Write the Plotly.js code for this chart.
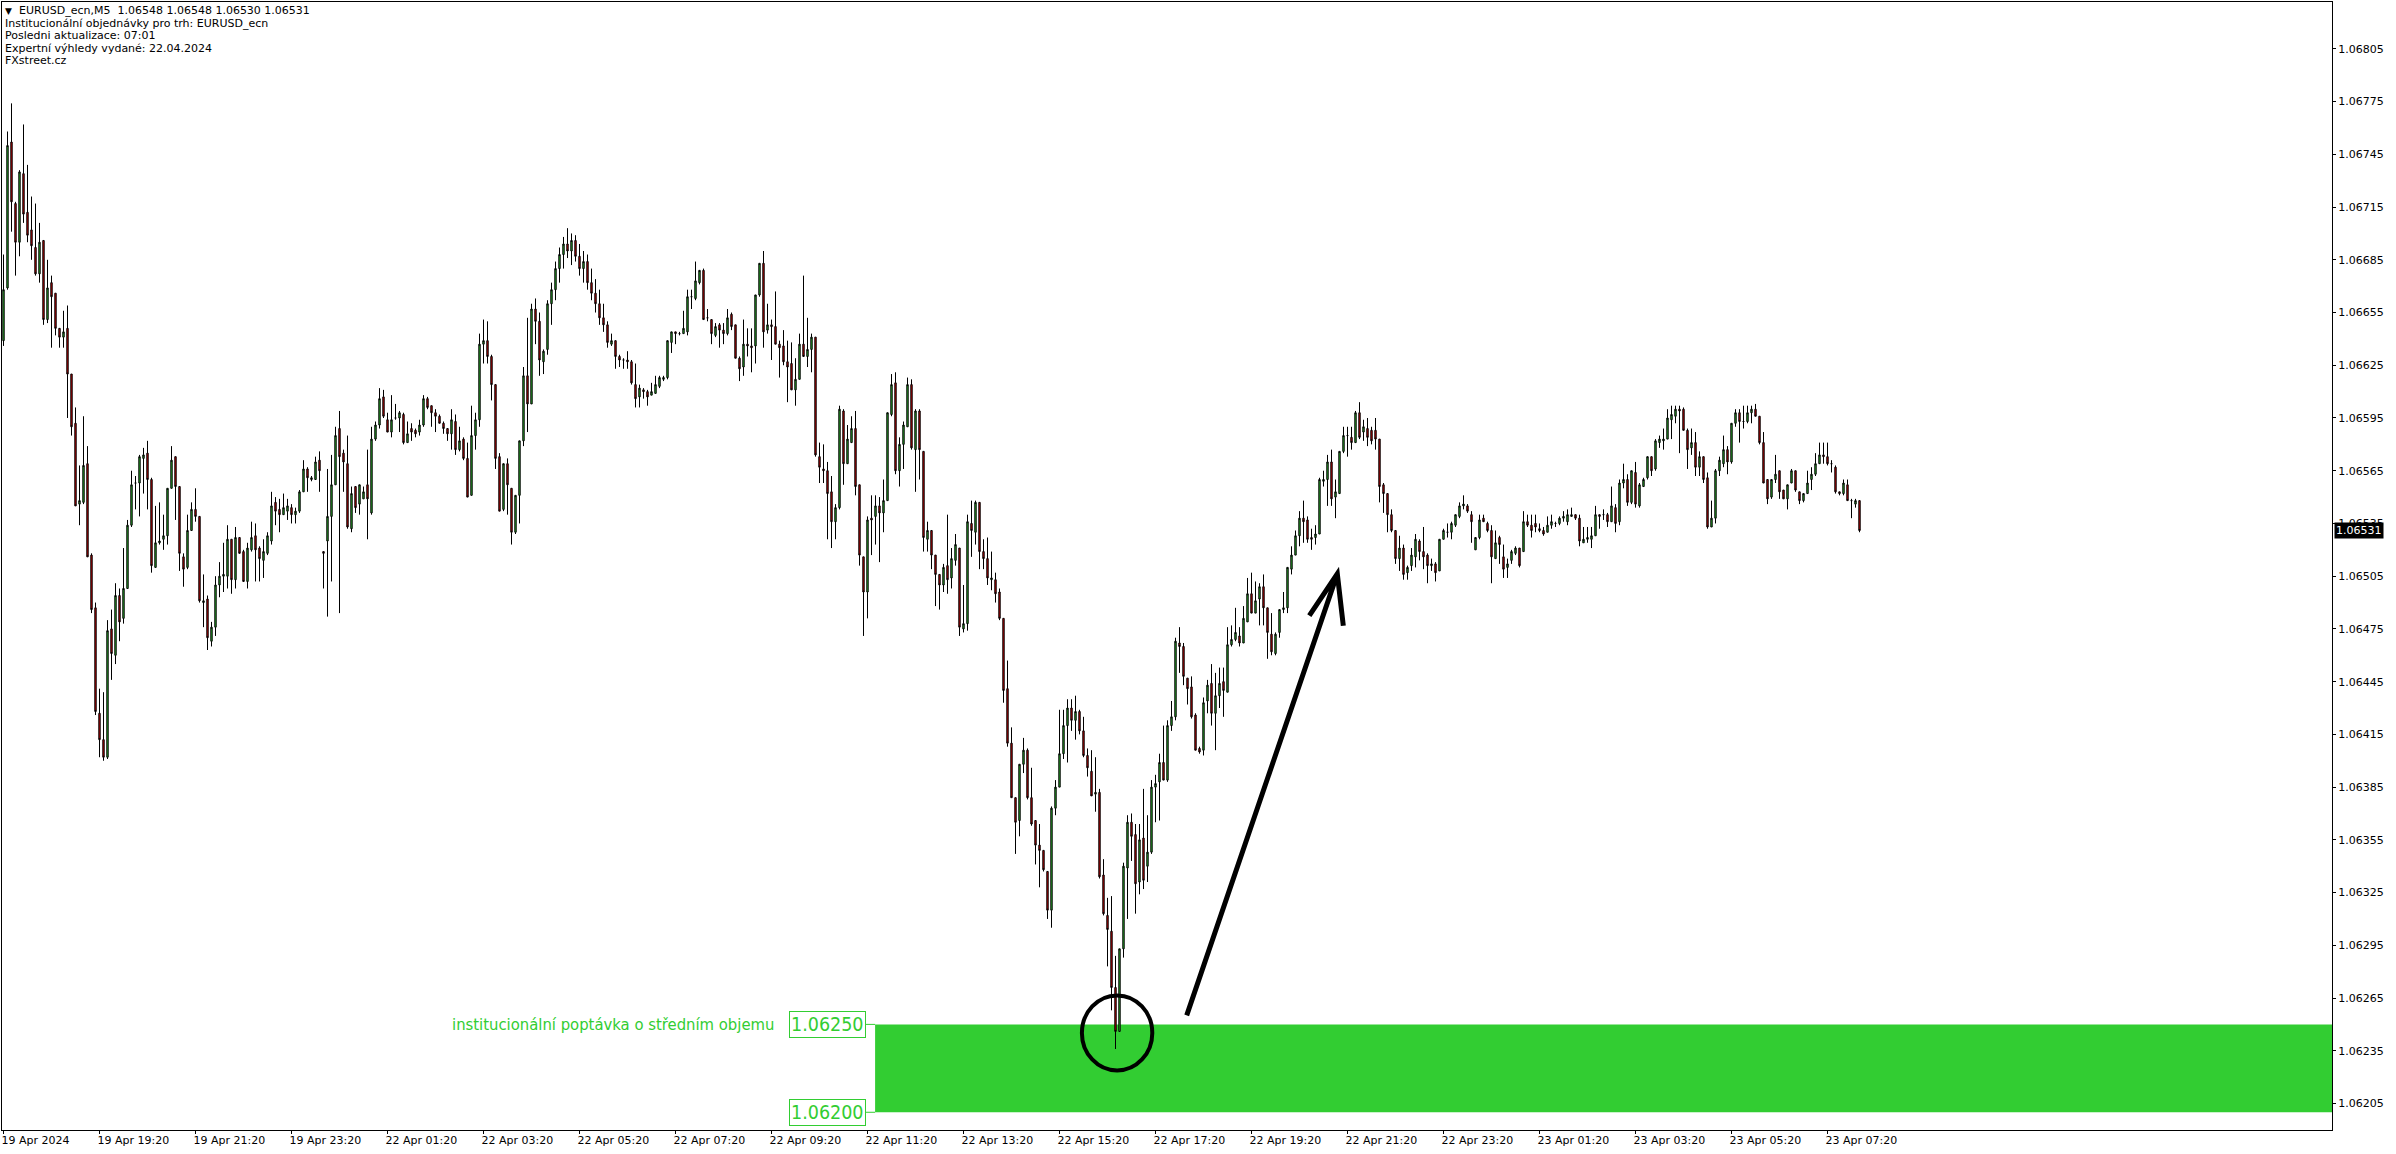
<!DOCTYPE html>
<html><head><meta charset="utf-8">
<script src="https://cdn.plot.ly/plotly-3.0.1.min.js"></script>
<style>html,body{margin:0;padding:0;background:#fff;overflow:hidden}#chart{width:2396px;height:1154px}</style>
</head><body><div id="chart"></div>
<script>
// Prices are stored as points (0.00001) above 1.06000
const BASE = 1.06, POINT = 0.00001;
const openPts = [639,669,752,717,695,734,712,702,692,677,696,651,672,666,646,641,646,620,592,546,547,569,517,487,427,412,402,475,460,494,481,498,534,558,558,572,575,560,510,524,526,528,555,573,556,516,510,531,543,539,490,492,468,476,500,505,505,526,503,527,519,502,520,528,521,514,518,525,547,543,540,542,544,540,542,553,566,560,560,571,
519,525,539,557,589,575,569,532,556,546,549,557,541,583,591,607,594,587,595,595,597,581,589,588,587,591,606,602,598,596,592,589,586,593,577,583,572,551,585,594,637,639,630,614,573,543,569,555,530,551,582,619,603,657,650,627,634,660,668,680,688,694,690,696,687,680,684,672,666,660,652,648,637,639,630,628,628,627,614,607,611,610,608,609,613,617,618,638,644,643,643,644,664,663,672,679,652,651,642,648,645,643,654,648,629,624,637,636,636,665,683,645,648,647,637,636,627,626,611,617,637,630,634,641,573,566,565,553,536,544,599,569,581,589,557,516,496,538,539,545,541,548,597,615,565,580,590,614,577,599,576,526,531,517,506,500,511,504,514,521,475,478,535,530,547,519,515,503,503,496,481,441,410,379,366,398,406,379,366,352,349,337,315,373,385,404,420,430,423,428,417,403,394,381,382,335,312,303,271,246,293,339,365,358,331,356,340,348,385,388,399,389,420,425,467,465,447,442,426,407,406,434,444,427,437,445,439,466,469,471,467,479,495,484,492,499,487,472,461,473,486,487,509,517,528,538,537,527,527,529,559,560,570,550,552,576,585,584,581,598,587,589,588,588,583,557,552,540,531,515,521,507,511,516,525,519,517,511,512,508,526,530,530,534,539,545,545,540,
520,527,538,535,531,515,527,516,510,514,518,521,519,536,534,535,532,531,530,534,535,535,538,536,539,540,538,524,526,526,528,540,540,540,536,544,536,558,560,547,564,545,556,561,573,566,581,582,583,594,596,600,600,588,578,581,567,573,561,533,538,565,569,577,570,592,598,593,593,598,600,596,581,560,550,560,565,554,549,558,565,553,548,552,560,563,569,574,573,569,567,553,552,557,548,546,548];
const highPts = [688,758,774,718,736,762,739,721,717,706,696,685,676,666,646,656,659,620,601,568,596,579,518,490,441,439,480,486,501,498,521,537,565,562,574,578,582,561,545,547,540,555,579,573,556,518,540,547,555,539,506,494,479,505,513,524,534,526,533,527,520,524,536,535,522,526,530,553,550,549,552,549,546,544,554,571,567,562,573,576,
519,566,574,590,599,577,585,556,556,557,556,577,590,593,612,611,598,608,603,599,598,593,592,589,594,608,607,602,600,597,593,589,600,597,590,584,581,602,598,643,651,650,631,614,575,569,572,555,551,582,624,652,660,663,655,634,662,672,684,692,698,703,700,699,694,690,688,680,674,668,660,650,643,639,631,629,633,628,626,614,612,611,615,619,619,619,639,644,644,644,656,668,668,684,679,680,657,651,649,649,649,657,655,648,630,651,646,646,665,683,690,660,651,667,639,645,639,638,629,643,676,652,643,641,581,580,570,562,546,602,600,591,596,599,557,516,539,551,551,550,560,598,620,621,584,593,618,617,600,600,576,536,531,517,506,512,540,521,529,521,500,540,548,548,547,526,527,519,507,498,481,457,419,379,398,413,407,396,366,364,349,337,374,389,429,429,435,435,437,429,425,407,406,402,384,344,322,323,289,293,342,369,370,364,364,384,369,389,392,404,420,423,434,470,476,467,447,448,427,408,436,446,455,450,453,453,476,477,487,476,488,504,507,502,501,506,487,484,473,486,496,510,522,531,542,548,539,532,534,561,565,574,577,560,576,590,590,590,599,604,594,595,590,595,583,558,552,543,531,528,523,511,521,529,526,533,518,515,513,526,532,535,536,540,547,551,546,542,
527,540,540,536,534,531,528,523,515,520,522,521,542,540,540,540,535,533,539,540,536,539,542,543,544,540,540,533,533,533,545,540,543,541,556,546,560,569,563,565,570,558,561,573,573,583,585,589,600,602,602,602,601,589,589,587,576,573,564,548,566,573,585,579,592,600,600,602,602,602,603,596,587,560,560,574,565,554,557,566,565,553,552,565,567,575,581,581,581,571,568,553,560,560,549,549,548];
const lowPts = [636,668,701,676,687,706,695,685,676,672,648,649,635,642,635,635,595,585,545,534,546,516,484,426,402,400,401,446,455,468,478,498,533,543,539,552,543,507,510,523,520,523,555,537,508,499,509,531,536,490,476,463,465,471,493,496,498,495,498,518,502,498,519,502,502,504,517,523,534,530,540,537,535,535,541,553,553,559,560,553,
498,482,502,557,484,553,532,530,541,540,549,526,540,582,589,595,587,584,594,587,580,581,582,584,585,590,600,590,587,592,586,582,577,574,576,571,550,551,577,590,626,626,605,566,542,542,540,523,529,535,579,587,603,637,619,620,631,648,662,672,680,686,682,684,676,672,668,662,655,648,644,635,636,623,624,623,623,614,601,601,606,602,608,609,612,616,617,632,637,642,643,642,657,662,671,651,650,637,641,635,637,642,645,629,616,619,630,621,626,664,635,643,628,637,618,625,604,611,602,617,630,624,621,573,558,558,526,521,526,543,557,569,581,551,511,471,481,517,523,513,530,548,596,563,556,566,590,577,553,560,519,519,509,488,486,496,495,498,511,471,473,474,516,523,509,509,500,497,490,480,433,408,379,347,357,393,378,363,341,328,337,310,305,369,385,401,399,417,412,415,402,391,380,371,333,312,283,258,236,246,288,310,343,313,324,327,331,347,365,366,389,388,417,423,450,443,432,424,406,404,403,427,420,406,430,425,439,465,468,465,467,479,484,484,477,477,458,460,460,470,484,484,506,517,522,524,524,520,523,529,556,545,545,538,552,575,573,577,581,583,582,579,580,577,547,541,530,530,512,508,503,503,508,510,514,509,501,508,502,508,526,527,526,533,538,543,541,524,
520,526,536,530,501,515,512,504,504,512,517,510,519,533,527,530,530,528,530,532,533,534,536,534,539,537,522,524,524,521,528,532,537,533,536,530,534,555,545,546,544,544,556,560,562,565,578,577,583,583,592,575,588,566,574,562,562,558,532,533,535,562,567,563,569,590,581,589,592,592,596,580,558,546,549,558,549,549,543,558,553,546,547,552,554,562,569,569,568,564,552,551,551,548,538,544,530];
const closePts = [668,750,718,695,735,711,699,693,677,695,651,669,664,646,641,644,620,590,545,548,568,516,486,428,412,402,474,461,494,479,498,534,557,558,573,574,560,511,524,525,528,555,571,556,518,509,531,543,539,491,491,470,476,500,505,506,526,503,527,518,502,521,527,520,515,519,528,545,542,540,544,545,540,542,553,566,561,561,570,565,
518,539,557,585,573,570,533,552,544,557,553,549,583,591,606,596,587,594,595,598,581,586,587,586,591,606,601,598,596,592,589,586,594,577,582,572,550,585,594,637,639,630,614,572,542,569,557,530,551,582,619,603,657,650,628,633,660,668,680,688,694,690,696,687,680,684,672,666,660,652,648,638,639,630,628,628,627,615,606,612,610,607,610,614,618,618,639,644,643,643,646,664,664,673,679,651,652,643,647,645,643,652,647,629,623,637,636,635,665,683,644,648,647,637,635,627,624,611,617,637,630,634,641,574,567,565,552,536,544,600,569,583,589,556,517,496,537,537,545,541,548,598,614,565,580,591,614,578,599,577,527,531,517,506,500,510,503,515,523,476,478,536,531,547,519,515,504,504,495,481,440,410,379,365,398,406,379,364,352,349,338,315,373,385,404,420,430,423,428,417,403,396,380,382,334,313,304,271,246,293,340,365,357,330,355,332,348,385,387,399,389,420,425,468,465,448,441,425,406,405,433,443,427,437,444,440,466,469,473,467,481,495,484,491,499,487,473,462,472,486,487,510,517,528,538,536,526,526,529,560,560,570,549,553,576,585,585,581,598,584,590,584,582,583,556,552,540,531,515,521,506,510,517,526,519,516,511,512,507,526,531,530,535,540,545,546,542,536,
527,537,536,531,516,524,523,509,512,519,521,511,536,534,531,533,531,529,534,536,535,538,539,540,540,538,525,526,527,528,540,539,540,536,545,535,558,560,547,565,546,557,560,573,565,582,583,583,595,597,600,599,588,577,581,567,573,560,533,538,565,571,577,570,592,598,593,593,598,600,596,581,558,549,560,563,553,549,557,565,554,548,552,558,563,569,574,573,569,569,553,552,558,548,548,548,531];

const tickBars = [0,24,48,72,96,120,144,168,192,216,240,264,288,312,336,360,384,408,432,456];
const tickLabels = ["19 Apr 2024","19 Apr 19:20","19 Apr 21:20","19 Apr 23:20","22 Apr 01:20","22 Apr 03:20","22 Apr 05:20","22 Apr 07:20","22 Apr 09:20","22 Apr 11:20","22 Apr 13:20","22 Apr 15:20","22 Apr 17:20","22 Apr 19:20","22 Apr 21:20","22 Apr 23:20","23 Apr 01:20","23 Apr 03:20","23 Apr 05:20","23 Apr 07:20"];
const priceTicks = [1.06205,1.06235,1.06265,1.06295,1.06325,1.06355,1.06385,1.06415,1.06445,1.06475,1.06505,1.06535,1.06565,1.06595,1.06625,1.06655,1.06685,1.06715,1.06745,1.06775,1.06805];

const zoneLow = 1.06200, zoneHigh = 1.06250, zoneStartBar = 217.9;
const zoneLabel = "institucionální poptávka o středním objemu";
const headerLines = ["EURUSD_ecn,M5&nbsp;&nbsp;1.06548 1.06548 1.06530 1.06531","Institucionální objednávky pro trh: EURUSD_ecn","Posledni aktualizace: 07:01","Expertní výhledy vydané: 22.04.2024","FXstreet.cz"];

// annotation geometry (bar index / price)
const circleBox = {x0:269.6, x1:287.2, y0:1.062238, y1:1.062665};
const arrowPts = {sx:295.8, sy:1.062551, tx:333.45, ty:1.065063, lx:326.45, ly:1.064825, rx:334.95, ry:1.064768};

const toPrice = v => +(BASE + v*POINT).toFixed(5);
const open = openPts.map(toPrice), high = highPts.map(toPrice), low = lowPts.map(toPrice), close = closePts.map(toPrice);
const bars = open.map((_, i) => i);

const W = 2396, H = 1154, ML = 2, MT = 2, MR = 64, MB = 24;
const PW = W - ML - MR, PH = H - MT - MB;
const xRange = [-0.375, -0.375 + PW/4];
const yRange = [1.0618992, 1.0683167];
const px = x => (x - ML)/PW, py = y => 1 - (y - MT)/PH;

const GREEN = '#32CD32';
const RED = '#E00000';
const NARROW = 'Liberation Sans Narrow, DejaVu Sans Condensed, sans-serif';
const annotations = [];
annotations.push({xref:'paper', yref:'paper', x:px(3), y:py(11), xanchor:'left', yanchor:'middle', text:'▼', showarrow:false, font:{size:9, color:'#000'}});
headerLines.forEach((t, i) => {
  annotations.push({xref:'paper', yref:'paper', x:px(i === 0 ? 17 : 3), y:py(11 + i*12.4), xanchor:'left', yanchor:'middle', text:t, showarrow:false, font:{size:11, color:'#000'}});
});
annotations.push({xref:'x', yref:'y', x:zoneStartBar, xshift:-9, y:zoneHigh, xanchor:'right', yanchor:'middle', text:zoneHigh.toFixed(5), showarrow:false, font:{family:NARROW, size:19.5, color:GREEN}, bgcolor:'#fff', bordercolor:GREEN, borderwidth:1, borderpad:1});
annotations.push({xref:'x', yref:'y', x:zoneStartBar, xshift:-9, y:zoneLow, xanchor:'right', yanchor:'middle', text:zoneLow.toFixed(5), showarrow:false, font:{family:NARROW, size:19.5, color:GREEN}, bgcolor:'#fff', bordercolor:GREEN, borderwidth:1, borderpad:1});
annotations.push({xref:'x', yref:'y', x:zoneStartBar, xshift:-99, y:zoneHigh, xanchor:'right', yanchor:'middle', text:zoneLabel, showarrow:false, font:{family:NARROW, size:16.5, color:GREEN}});
annotations.push({xref:'paper', yref:'y', x:1, xshift:2, y:close[close.length-1], xanchor:'left', yanchor:'middle', text:close[close.length-1].toFixed(5), showarrow:false, bgcolor:'#000', font:{size:11, color:'#fff'}, borderpad:1});

const shapes = [
  {type:'rect', xref:'x', yref:'y', x0:zoneStartBar, x1:xRange[1], y0:zoneLow, y1:zoneHigh, fillcolor:GREEN, line:{width:0}, layer:'below'},
  {type:'line', xref:'x', yref:'y', x0:zoneStartBar-2.3, x1:zoneStartBar, y0:zoneHigh, y1:zoneHigh, line:{color:GREEN, width:1}},
  {type:'line', xref:'x', yref:'y', x0:zoneStartBar-2.3, x1:zoneStartBar, y0:zoneLow, y1:zoneLow, line:{color:GREEN, width:1}},
  {type:'circle', xref:'x', yref:'y', x0:circleBox.x0, x1:circleBox.x1, y0:circleBox.y0, y1:circleBox.y1, line:{color:'#000', width:4}},
  {type:'path', xref:'x', yref:'y', path:`M ${arrowPts.sx},${arrowPts.sy} L ${arrowPts.tx},${arrowPts.ty} M ${arrowPts.lx},${arrowPts.ly} L ${arrowPts.tx},${arrowPts.ty} L ${arrowPts.rx},${arrowPts.ry}`, line:{color:'#000', width:5}}
];

const data = [{
  type:'candlestick', x:bars, open, high, low, close,
  increasing:{line:{color:'#000', width:1}, fillcolor:GREEN},
  decreasing:{line:{color:'#000', width:1}, fillcolor:RED},
  whiskerwidth:0, hoverinfo:'skip', showlegend:false
}];

const layout = {
  width:W, height:H, margin:{l:ML, r:MR, t:MT, b:MB, pad:0},
  paper_bgcolor:'#fff', plot_bgcolor:'#fff',
  font:{family:'DejaVu Sans, sans-serif', size:11, color:'#000'},
  boxgap:0.5, showlegend:false, dragmode:false,
  xaxis:{type:'linear', range:xRange, autorange:false, rangeslider:{visible:false}, showgrid:false, zeroline:false,
         showline:true, mirror:true, linecolor:'#000', linewidth:1,
         tickmode:'array', tickvals:tickBars, ticktext:tickLabels, ticks:'outside', ticklen:3, tickcolor:'#000',
         ticklabelposition:'outside right', ticklabelshift:-3, automargin:false, fixedrange:true},
  yaxis:{range:yRange, autorange:false, side:'right', showgrid:false, zeroline:false,
         showline:true, mirror:true, linecolor:'#000', linewidth:1,
         tickmode:'array', tickvals:priceTicks, ticktext:priceTicks.map(v => v.toFixed(5)), ticks:'outside', ticklen:3, tickcolor:'#000',
         automargin:false, fixedrange:true},
  shapes, annotations
};
Plotly.newPlot('chart', data, layout, {staticPlot:true, displayModeBar:false});
</script></body></html>
